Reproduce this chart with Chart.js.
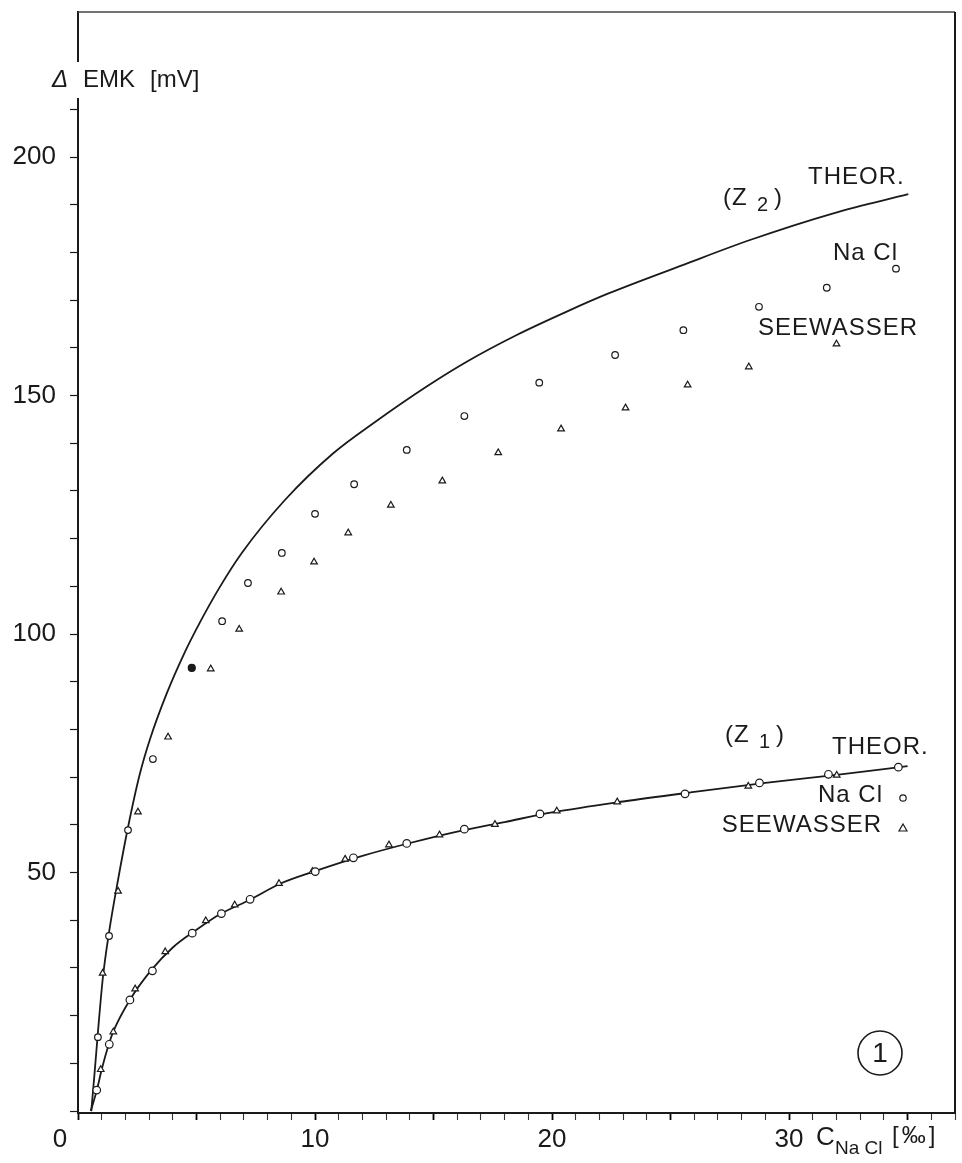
<!DOCTYPE html>
<html>
<head>
<meta charset="utf-8">
<script src="https://cdn.jsdelivr.net/npm/chart.js@4.4.1/dist/chart.umd.min.js"></script>
<style>
  html, body { margin: 0; padding: 0; background: #fff; }
  #wrap { width: 962px; height: 1163px; }
</style>
</head>
<body>
<div id="wrap"><canvas id="emkChart"></canvas></div>
<script>
// tick labels
const xTickLabels = [0, 10, 20, 30];
const yTickLabels = [50, 100, 150, 200];

// Z2 theoretical curve
const z2TheorC = [0.56, 0.7, 0.84, 1.05, 1.31, 1.69, 2.11, 2.6, 3.04, 3.74, 4.44, 5.15, 6.0, 6.91, 8.73, 10.77, 12.46, 14.71, 16.4, 18.51, 20.62, 22.38, 25.54, 28.35, 31.87, 35.03];
const z2TheorEmk = [0, 8, 16.5, 28, 37.5, 48.5, 59.5, 70.5, 78, 87.5, 95.5, 102.5, 110, 117, 128.1, 137.9, 144.2, 151.9, 157.1, 162.7, 167.6, 171.4, 177.4, 182.6, 188.2, 192.2];

// Z2 measured, NaCl (circles)
const z2NaclC = [0.84, 1.31, 2.11, 3.16, 6.08, 7.17, 8.6, 10.0, 11.65, 13.87, 16.3, 19.46, 22.66, 25.54, 28.73, 31.59, 34.51];
const z2NaclEmk = [15.5, 36.7, 58.9, 73.8, 102.7, 110.7, 117, 125.2, 131.4, 138.6, 145.7, 152.7, 158.5, 163.7, 168.6, 172.6, 176.6];
// one filled point
const z2FilledC = [4.8];
const z2FilledEmk = [92.9];

// Z2 measured, Seewasser (triangles)
const z2SeeC = [1.04, 1.69, 2.53, 3.8, 5.6, 6.8, 8.57, 9.96, 11.4, 13.2, 15.37, 17.73, 20.38, 23.1, 25.72, 28.3, 32.0];
const z2SeeEmk = [28.9, 46.1, 62.7, 78.4, 92.7, 101, 108.8, 115.1, 121.2, 127, 132.1, 138, 143, 147.4, 152.2, 156, 160.8];

// Z1 theoretical curve
const z1TheorC = [0.54, 0.8, 1.0, 1.3, 1.5, 2.2, 3.1, 4.0, 5.0, 6.0, 7.3, 8.5, 10, 12, 14, 16, 18, 20, 23, 26, 29, 32, 35];
const z1TheorEmk = [0, 4.5, 8.7, 14, 16.8, 23.4, 29.6, 34.3, 38.0, 41.3, 44.4, 47.6, 50.3, 53.5, 56.2, 58.6, 60.6, 62.6, 64.9, 66.9, 68.8, 70.5, 72.3];

// Z1 measured, NaCl
const z1NaclC = [0.79, 1.32, 2.19, 3.14, 4.82, 6.05, 7.26, 10.01, 11.62, 13.87, 16.3, 19.49, 25.61, 28.75, 31.66, 34.61];
const z1NaclEmk = [4.4, 14.0, 23.3, 29.4, 37.3, 41.4, 44.4, 50.2, 53.1, 56.1, 59.1, 62.3, 66.5, 68.8, 70.6, 72.1];

// Z1 measured, Seewasser
const z1SeeC = [0.96, 1.49, 2.41, 3.68, 5.39, 6.61, 8.48, 9.89, 11.27, 13.12, 15.25, 17.59, 20.2, 22.75, 28.28, 32.01];
const z1SeeEmk = [8.7, 16.6, 25.6, 33.4, 39.9, 43.2, 47.7, 50.2, 52.8, 55.8, 57.9, 60.1, 62.9, 64.8, 68.1, 70.4];

const INK = '#1a1a1a';
const FONT = '"Liberation Sans", Arial, sans-serif';

function pts(xs, ys) {
  return xs.map((x, i) => ({ x: x, y: ys[i] }));
}

function lineSet(xs, ys) {
  return {
    data: pts(xs, ys),
    showLine: true,
    borderColor: INK,
    borderWidth: 1.8,
    pointRadius: 0,
    cubicInterpolationMode: 'monotone',
    order: 2
  };
}

function markerSet(xs, ys, style, fill, r) {
  return {
    data: pts(xs, ys),
    showLine: false,
    pointStyle: style,
    pointRadius: r,
    pointBackgroundColor: fill,
    pointBorderColor: INK,
    pointBorderWidth: 1.2,
    order: 1
  };
}

// drawing frame, axis title and curve annotations
const paperPlugin = {
  id: 'paper',
  afterDraw(chart) {
    const { ctx, chartArea: a } = chart;
    ctx.save();

    // top and right edges of the frame
    ctx.strokeStyle = '#444';
    ctx.lineWidth = 1.5;
    ctx.beginPath();
    ctx.moveTo(a.left, a.top);
    ctx.lineTo(a.right, a.top);
    ctx.stroke();
    ctx.strokeStyle = INK;
    ctx.lineWidth = 2;
    ctx.beginPath();
    ctx.moveTo(a.right, a.top);
    ctx.lineTo(a.right, a.bottom);
    ctx.stroke();

    // y axis title sits across the axis line
    ctx.fillStyle = '#fff';
    ctx.fillRect(48, 62, 165, 36);
    ctx.fillStyle = INK;
    ctx.textBaseline = 'middle';
    ctx.textAlign = 'left';
    ctx.font = 'italic 24px ' + FONT;
    ctx.fillText('\u0394', 52, 80);
    ctx.font = '24px ' + FONT;
    ctx.fillText('EMK', 83, 80);
    ctx.fillText('[mV]', 150, 80);

    // annotations
    ctx.letterSpacing = '1px';
    const label = (t, x, y) => ctx.fillText(t, x, y);
    const zLabel = (sub, x, y) => {
      ctx.font = '24px ' + FONT;
      ctx.fillText('(Z', x, y);
      ctx.font = '20px ' + FONT;
      ctx.fillText(sub, x + 34, y + 7);
      ctx.font = '24px ' + FONT;
      ctx.fillText(')', x + 51, y);
    };
    zLabel('2', 723, 198);
    ctx.font = '24px ' + FONT;
    label('THEOR.', 808, 177);
    label('Na Cl', 833, 253);
    label('SEEWASSER', 758, 328);

    zLabel('1', 725, 735);
    ctx.font = '24px ' + FONT;
    label('THEOR.', 832, 747);
    label('Na Cl', 818, 795);
    ctx.textAlign = 'right';
    label('SEEWASSER', 882, 825);
    ctx.textAlign = 'left';

    // legend keys for Z1
    ctx.lineWidth = 1.2;
    ctx.beginPath();
    ctx.arc(903, 798, 3.2, 0, Math.PI * 2);
    ctx.stroke();
    ctx.beginPath();
    ctx.moveTo(903, 824);
    ctx.lineTo(907, 831);
    ctx.lineTo(899, 831);
    ctx.closePath();
    ctx.stroke();

    // x axis title
    ctx.letterSpacing = '0px';
    ctx.font = '26px ' + FONT;
    ctx.fillText('C', 816, 1138);
    ctx.font = '19px ' + FONT;
    ctx.fillText('Na Cl', 835, 1149);
    ctx.letterSpacing = '3px';
    ctx.font = '24px ' + FONT;
    ctx.fillText('[\u2030]', 892, 1136);

    // figure number
    ctx.letterSpacing = '0px';
    ctx.lineWidth = 1.6;
    ctx.beginPath();
    ctx.arc(880, 1053, 22, 0, Math.PI * 2);
    ctx.stroke();
    ctx.font = '28px ' + FONT;
    ctx.textAlign = 'center';
    ctx.fillText('1', 880, 1054);

    ctx.restore();
  }
};

const ctx = document.getElementById('emkChart').getContext('2d');
new Chart(ctx, {
  type: 'scatter',
  data: {
    datasets: [
      markerSet(z2FilledC, z2FilledEmk, 'circle', INK, 3.5),
      markerSet(z2NaclC, z2NaclEmk, 'circle', '#fff', 3.3),
      markerSet(z2SeeC, z2SeeEmk, 'triangle', '#fff', 3.8),
      markerSet(z1NaclC, z1NaclEmk, 'circle', '#fff', 3.8),
      markerSet(z1SeeC, z1SeeEmk, 'triangle', '#fff', 3.8),
      lineSet(z2TheorC, z2TheorEmk),
      lineSet(z1TheorC, z1TheorEmk)
    ]
  },
  options: {
    responsive: true,
    maintainAspectRatio: false,
    animation: false,
    layout: { padding: { top: 12, right: 7, left: 0, bottom: 0 } },
    plugins: { legend: { display: false }, tooltip: { enabled: false } },
    scales: {
      x: {
        type: 'linear',
        min: 0,
        max: 37,
        afterFit(scale) {
          scale.height = 50;
          scale.paddingLeft = 0;
          scale.paddingRight = 0;
        },
        border: { display: true, color: INK, width: 2 },
        grid: {
          drawOnChartArea: false,
          drawTicks: true,
          tickLength: 7,
          tickColor: c => (c.tick && c.tick.value % 5 === 0) ? '#000' : '#333',
          tickWidth: c => (c.tick && c.tick.value % 5 === 0) ? 1.8 : 1.1
        },
        ticks: {
          stepSize: 1,
          autoSkip: false,
          maxRotation: 0,
          includeBounds: false,
          padding: 4,
          color: INK,
          font: { family: FONT, size: 26 },
          callback: v => xTickLabels.includes(v) ? (v === 0 ? '0     ' : String(v)) : ''
        }
      },
      y: {
        type: 'linear',
        min: -0.4,
        max: 230.4,
        afterFit(scale) {
          scale.width = 78;
          scale.paddingTop = 0;
          scale.paddingBottom = 0;
        },
        border: { display: true, color: INK, width: 2 },
        grid: {
          drawOnChartArea: false,
          drawTicks: true,
          tickLength: 8,
          tickColor: c => (c.tick && c.tick.value > 210) ? 'rgba(0,0,0,0)' : INK,
          tickWidth: 1.2
        },
        ticks: {
          stepSize: 10,
          autoSkip: false,
          includeBounds: false,
          padding: 14,
          color: INK,
          font: { family: FONT, size: 26 },
          callback: v => yTickLabels.includes(v) ? String(v) : ''
        }
      }
    }
  },
  plugins: [paperPlugin]
});
</script>
</body>
</html>
